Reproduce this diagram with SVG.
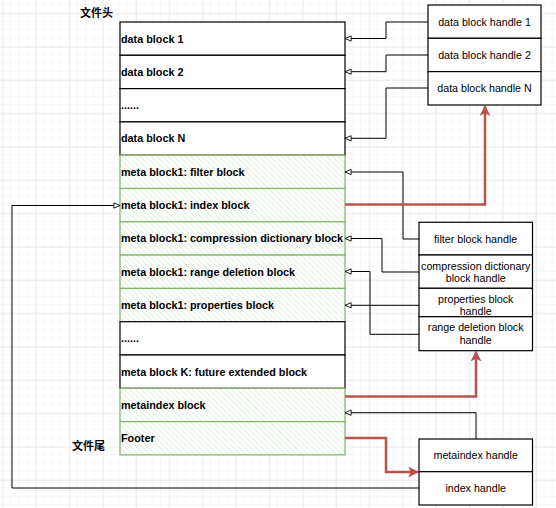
<svg xmlns="http://www.w3.org/2000/svg" width="556" height="508" viewBox="0 0 556 508">
<defs>
<pattern id="gridMinor" patternUnits="userSpaceOnUse" x="2.7" y="13.4" width="8.333" height="8.333">
<path d="M8.333,0 V8.333 M0,8.333 H8.333" fill="none" stroke="#efefef" stroke-width="1"/>
</pattern>
<pattern id="gridMajor" patternUnits="userSpaceOnUse" x="2.7" y="13.4" width="33.333" height="33.333">
<path d="M0,0 V33.333 M0,0 H33.333" fill="none" stroke="#dedede" stroke-width="1"/>
</pattern>
<pattern id="hatch" patternUnits="userSpaceOnUse" width="4" height="4" patternTransform="rotate(-45)">
<rect width="4" height="4" fill="#ffffff"/>
<line x1="0" y1="0" x2="0" y2="4" stroke="#d5e8d4" stroke-width="1.4"/>
</pattern>
<marker id="open" viewBox="0 0 8 8" refX="7.5" refY="4" markerWidth="7" markerHeight="7" markerUnits="userSpaceOnUse" orient="auto">
<path d="M0.5,1 L7.5,4 L0.5,7 Z" fill="#ffffff" stroke="#000000" stroke-width="1"/>
</marker>
<marker id="block" viewBox="0 0 10 10" refX="9" refY="5" markerWidth="11" markerHeight="11" markerUnits="userSpaceOnUse" orient="auto">
<path d="M0,0 L10,5 L0,10 L2.5,5 Z" fill="#b85450"/>
</marker>
</defs>
<style>
.blk{fill:#ffffff;stroke:#000000;stroke-width:1.2}
.grn{fill:url(#hatch);stroke:#82b366;stroke-width:1.2}
.hnd{fill:#ffffff;stroke:#000000;stroke-width:1.2}
.lt{font-family:"Liberation Sans",Arial,sans-serif;font-size:10.8px;font-weight:bold;fill:#000000}
.ht{font-family:"Liberation Sans",Arial,sans-serif;font-size:10.7px;fill:#000000;text-anchor:middle}
.cn{font-family:"Liberation Sans","Noto Sans CJK SC",sans-serif;font-size:11px;font-weight:bold;fill:#000000}
.bl{fill:none;stroke:#000000;stroke-width:1;marker-end:url(#open)}
.rd{fill:none;stroke:#b85450;stroke-width:2.5;marker-end:url(#block)}
</style>
<rect width="556" height="508" fill="#ffffff"/>
<rect width="556" height="508" fill="url(#gridMinor)"/>
<rect width="556" height="508" fill="url(#gridMajor)"/>

<text class="cn" x="80" y="17">文件头</text>
<text class="cn" x="72" y="450">文件尾</text>

<g id="left-blocks">
<g id="data-block-1"><rect class="blk" x="120" y="22" width="225" height="33.3"/><text class="lt" x="121" y="42.5">data block 1</text></g>
<g id="data-block-2"><rect class="blk" x="120" y="55.3" width="225" height="33.3"/><text class="lt" x="121" y="75.8">data block 2</text></g>
<g id="data-dots"><rect class="blk" x="120" y="88.6" width="225" height="33.3"/><text class="lt" x="121" y="109">......</text></g>
<g id="data-block-n"><rect class="blk" x="120" y="121.9" width="225" height="33.3"/><text class="lt" x="121" y="142.4">data block N</text></g>
<g id="meta-filter"><rect class="grn" x="120" y="155.2" width="225" height="33.3"/><text class="lt" x="121" y="175.7">meta block1: filter block</text></g>
<g id="meta-index"><rect class="grn" x="120" y="188.5" width="225" height="33.3"/><text class="lt" x="121" y="209">meta block1: index block</text></g>
<g id="meta-compression"><rect class="grn" x="120" y="221.8" width="225" height="33.3"/><text class="lt" x="121" y="242.3">meta block1: compression dictionary block</text></g>
<g id="meta-range"><rect class="grn" x="120" y="255.1" width="225" height="33.3"/><text class="lt" x="121" y="275.6">meta block1: range deletion  block</text></g>
<g id="meta-properties"><rect class="grn" x="120" y="288.4" width="225" height="33.3"/><text class="lt" x="121" y="308.9">meta block1: properties block</text></g>
<g id="meta-dots"><rect class="blk" x="120" y="321.7" width="225" height="33.3"/><text class="lt" x="121" y="342.2">......</text></g>
<g id="meta-k"><rect class="blk" x="120" y="355" width="225" height="33.3"/><text class="lt" x="121" y="375.5">meta block K: future extended block</text></g>
<g id="metaindex-block"><rect class="grn" x="120" y="388.3" width="225" height="33.3"/><text class="lt" x="121" y="408.8">metaindex block</text></g>
<g id="footer"><rect class="grn" x="120" y="421.6" width="225" height="33.3"/><text class="lt" x="121" y="442.1">Footer</text></g>
</g>

<g id="data-handles">
<g id="dbh1"><rect class="hnd" x="428" y="5" width="113" height="33.3"/><text class="ht" x="484.5" y="25.5">data block handle 1</text></g>
<g id="dbh2"><rect class="hnd" x="428" y="38.3" width="113" height="33.3"/><text class="ht" x="484.5" y="58.8">data block handle 2</text></g>
<g id="dbhn"><rect class="hnd" x="428" y="71.6" width="113" height="33.4"/><text class="ht" x="484.5" y="92.2">data block handle N</text></g>
</g>

<g id="meta-handles">
<g id="fbh"><rect class="hnd" x="419" y="222.3" width="113.5" height="32.7"/><text class="ht" x="475.7" y="242.8">filter block handle</text></g>
<g id="cdbh"><rect class="hnd" x="419" y="255" width="113.5" height="33.3"/><text class="ht" x="475.7" y="269.5">compression dictionary</text><text class="ht" x="475.7" y="281.5">block handle</text></g>
<g id="pbh"><rect class="hnd" x="419" y="288.3" width="113.5" height="28.4"/><text class="ht" x="475.7" y="302.5">properties block</text><text class="ht" x="475.7" y="315">handle</text></g>
<g id="rdbh"><rect class="hnd" x="419" y="316.7" width="113.5" height="34"/><text class="ht" x="475.7" y="331">range deletion block</text><text class="ht" x="475.7" y="344.3">handle</text></g>
</g>

<g id="footer-handles">
<g id="mih"><rect class="hnd" x="419" y="439" width="113.5" height="32.7"/><text class="ht" x="475.7" y="458.8">metaindex handle</text></g>
<g id="ih"><rect class="hnd" x="419" y="471.7" width="113.5" height="33.3"/><text class="ht" x="475.7" y="491.5">index handle</text></g>
</g>

<g id="connectors">
<path class="bl" d="M428,22 H386 V38.5 H345"/>
<path class="bl" d="M428,55 H386 V71.7 H345"/>
<path class="bl" d="M428,88 H386 V138.3 H345"/>
<path class="bl" d="M419,239 H403 V172 H345"/>
<path class="bl" d="M419,272 H382 V238.5 H345"/>
<path class="bl" d="M419,305.3 H345"/>
<path class="bl" d="M419,334.3 H370 V271.5 H345"/>
<path class="bl" d="M476,439 V412.7 H345"/>
<path class="bl" d="M419,488 H12 V205.5 H120"/>
<path class="rd" d="M345,204.5 H485 V106"/>
<path class="rd" d="M345,396.5 H476 V351.5"/>
<path class="rd" d="M345,438 H386 V472 H418"/>
</g>
</svg>
